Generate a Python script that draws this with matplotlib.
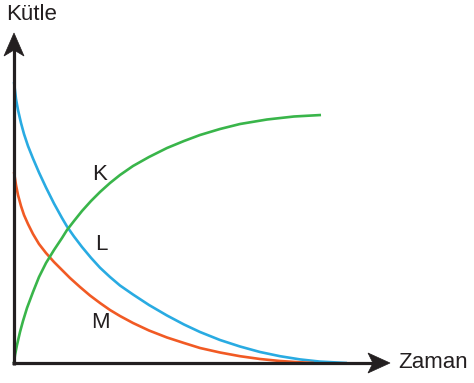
import matplotlib
matplotlib.use("Agg")
import matplotlib.pyplot as plt
from matplotlib.patches import Polygon

plt.rcParams['font.family'] = ['Liberation Sans', 'DejaVu Sans']

# Curve K (green) - time, mass
k_t = [0, 1, 3, 6, 9, 13, 19, 25, 32, 40, 48, 53, 60, 68, 77, 86, 96, 106, 119,
       135, 153, 170, 186, 206, 226, 253, 280, 307]
k_m = [0, 8, 18, 31, 42, 55, 71, 86, 100, 113, 125, 133, 142, 152, 162, 171, 180,
       188, 197, 206, 215, 222, 228, 234, 239, 243.5, 246.5, 248]

# Curve L (blue)
l_t = [0, 2, 4, 7, 10, 14, 19, 25, 32, 40, 48, 53, 60, 68, 77, 86, 96, 106, 119,
       135, 153, 170, 186, 206, 226, 246, 266, 286, 306, 333]
l_m = [281, 264, 253, 240, 229, 217, 204.5, 190.5, 175.5, 159.5, 145, 136.5, 126.5,
       116, 105.2, 95.3, 86, 77.5, 68.5, 58, 47.5, 38.5, 31, 23, 16.5, 11, 6.8, 3.6,
       1.4, 0]

# Curve M (orange)
m_t = [0, 2, 4, 7, 10, 14, 19, 25, 32, 40, 48, 56, 66, 76, 86, 96, 106, 119, 135,
       153, 170, 186, 206, 226, 246, 266, 286, 300]
m_m = [191, 178, 168, 157, 148, 139, 129, 119, 110, 101, 93, 85, 76, 67.5, 60, 53,
       47, 40, 32.5, 25.5, 20, 15, 10.5, 6.8, 4, 2, 0.7, 0]

labels = ["K", "L", "M"]
label_t = [86, 87, 86]
label_m = [189, 118, 40]

C_K = "#39b54a"
C_L = "#29abe2"
C_M = "#f15a24"
C_AX = "#231f20"

fig = plt.figure(figsize=(4.74, 3.83), dpi=100)
ax = fig.add_axes([0, 0, 1, 1])
ax.set_xlim(-14, 460)
ax.set_ylim(-20, 363)
ax.axis("off")

lw = 1.9
for t, m, c, z in [(l_t, l_m, C_L, 2), (m_t, m_m, C_M, 2), (k_t, k_m, C_K, 3)]:
    ax.plot(t, m, color=c, lw=lw, solid_capstyle="butt", solid_joinstyle="round", zorder=z)

# axes
ax.plot([0, 0], [-1.5, 315], color=C_AX, lw=2.3, zorder=5, solid_capstyle="butt")
ax.plot([-1.5, 360], [0, 0], color=C_AX, lw=2.3, zorder=5, solid_capstyle="butt")
ax.add_patch(Polygon([(0, 330), (-10, 307), (0, 313), (10, 307)], closed=True,
                     facecolor=C_AX, edgecolor=C_AX, lw=0.5, zorder=6))
ax.add_patch(Polygon([(376, 0), (354, 10), (359, 0), (354, -10)], closed=True,
                     facecolor=C_AX, edgecolor=C_AX, lw=0.5, zorder=6))

for s, t, m in zip(labels, label_t, label_m):
    ax.text(t, m, s, fontsize=16, color=C_AX, ha="center", va="center")

ax.text(-8, 348, "Kütle", fontsize=16, color=C_AX, ha="left", va="center")
ax.text(384, 0, "Zaman", fontsize=16, color=C_AX, ha="left", va="center")

fig.savefig("out.png", dpi=100)
